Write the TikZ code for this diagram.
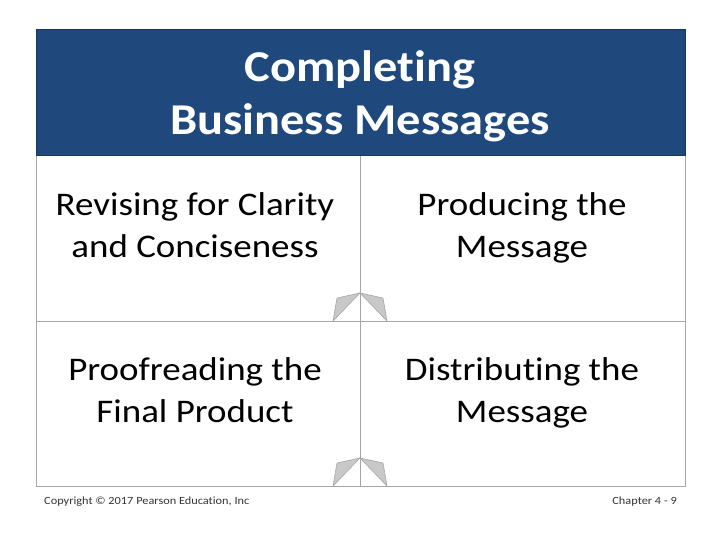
\documentclass[tikz,border=0pt]{standalone}
\usepackage{fontspec}
\setmainfont[Ligatures=NoCommon]{Carlito}
\newfontfamily\slidefont[FakeStretch=1.12, Ligatures=NoCommon]{Carlito}
\newfontfamily\titlefont[FakeStretch=1.1, Ligatures=NoCommon]{Carlito}
\usetikzlibrary{positioning}
\definecolor{header}{HTML}{1F497D}
\definecolor{headerline}{HTML}{17375E}
\definecolor{gridline}{HTML}{A6A6A6}
\definecolor{tabfill}{HTML}{C8C8C8}

\begin{document}
\begin{tikzpicture}[x=1pt, y=-1pt, every node/.style={align=center, inner sep=0pt},
  cell/.style={font=\slidefont\fontsize{33}{42}\selectfont, anchor=base},
  foot/.style={font=\slidefont\fontsize{11}{13}\selectfont, text=black!80},
  tab/.style={fill=tabfill, draw=gridline, line width=0.6pt}]
  \useasboundingbox (0,0) rectangle (720,540);
  % header band
  \fill[header] (36,30) rectangle (685,156);
  \draw[headerline, line width=1pt] (36,30) rectangle (685,156);
  \node[font=\titlefont\bfseries\fontsize{44}{53}\selectfont, text=white, anchor=base] (title) at (360,135) {Completing\\Business Messages};
  % grid
  \draw[gridline, line width=0.8pt] (36,156) -- (36,486) -- (685,486) -- (685,156);
  \draw[gridline, line width=0.8pt] (360,156) -- (360,486);
  \draw[gridline, line width=0.8pt] (36,321) -- (685,321);
  % cells (anchored on the last line's baseline)
  \node[cell] (revise) at (195,257) {Revising for Clarity\\and Conciseness};
  \node[cell] (produce) at (522,257) {Producing the\\Message};
  \node[cell] (proof) at (195,422) {Proofreading the\\Final Product};
  \node[cell] (distrib) at (522,422) {Distributing the\\Message};
  % tabs
  \foreach \y in {321,486} {
    \draw[tab] (333,\y) -- (337,\y-23) -- (360,\y-28) -- cycle;
    \draw[tab] (387,\y) -- (383,\y-23) -- (360,\y-28) -- cycle;
  }
  % footer
  \node[foot, anchor=west] (copy) at (44,502) {Copyright © 2017 Pearson Education, Inc};
  \node[foot, anchor=east] (chap) at (677,502) {Chapter 4 - 9};
\end{tikzpicture}
\end{document}
